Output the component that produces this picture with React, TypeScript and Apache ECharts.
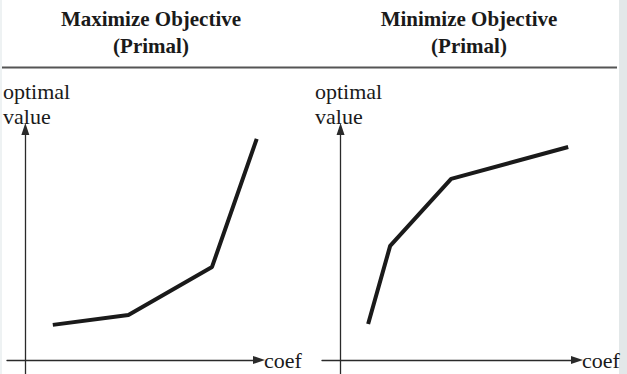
import React, { useEffect, useRef } from "react";
import * as echarts from "echarts";

// Left panel: maximize objective (convex, increasing)
const maxCoef = [1.2, 4.5, 8.15, 10.1];
const maxValue = [1.52, 1.95, 4.03, 9.57];
// Right panel: minimize objective (concave, increasing)
const minCoef = [1.19, 2.14, 4.77, 9.82];
const minValue = [1.56, 4.94, 7.84, 9.22];

const titles = ["Maximize Objective", "Minimize Objective"];
const subtitle = "(Primal)";
const yLabelLines = ["optimal", "value"];
const xLabel = "coef";

const SERIF = "'Liberation Serif', 'Times New Roman', serif";
const INK = "#1a1a1a";
const AXIS = "#2a2a2a";

function axisPair(gridIndex: number) {
  const x = {
    type: "value",
    gridIndex,
    min: -0.8,
    max: 10.2,
    name: xLabel,
    nameLocation: "end",
    nameGap: 5,
    nameTextStyle: { fontFamily: SERIF, fontSize: 22, color: INK, verticalAlign: "middle", padding: [0, 0, 4, 0] },
    axisLine: {
      onZero: true,
      symbol: ["none", "triangle"],
      symbolSize: [8, 12],
      symbolOffset: [0, 0],
      lineStyle: { color: AXIS, width: 1.3 },
    },
    axisTick: { show: false },
    axisLabel: { show: false },
    splitLine: { show: false },
  };
  const y = {
    type: "value",
    gridIndex,
    min: -0.606,
    max: 10,
    axisLine: {
      onZero: true,
      symbol: ["none", "triangle"],
      symbolSize: [8, 12],
      lineStyle: { color: AXIS, width: 1.3 },
    },
    axisTick: { show: false },
    axisLabel: { show: false },
    splitLine: { show: false },
  };
  return { x, y };
}

export default function App() {
  const ref = useRef<HTMLDivElement>(null);
  useEffect(() => {
    if (!ref.current) return;
    const chart = echarts.init(ref.current, null, { renderer: "svg" });
    const a0 = axisPair(0);
    const a1 = axisPair(1);
    const textEls: any[] = [];
    const centers = [151, 469];
    const labelX = [3, 315];
    titles.forEach((t, i) => {
      textEls.push({
        type: "text",
        x: centers[i],
        y: 29,
        style: { text: t, fontFamily: SERIF, fontWeight: "bold", fontSize: 21, fill: INK, align: "center", verticalAlign: "bottom" },
      });
      textEls.push({
        type: "text",
        x: centers[i],
        y: 56,
        style: { text: subtitle, fontFamily: SERIF, fontWeight: "bold", fontSize: 21, fill: INK, align: "center", verticalAlign: "bottom" },
      });
      yLabelLines.forEach((l, j) => {
        textEls.push({
          type: "text",
          x: labelX[i],
          y: 102 + j * 25,
          style: { text: l, fontFamily: SERIF, fontSize: 22, fill: INK, align: "left", verticalAlign: "bottom" },
        });
      });
    });
    chart.setOption({
      animation: false,
      backgroundColor: "#ffffff",
      grid: [
        { left: 7, top: 129, width: 252, height: 245 },
        { left: 322, top: 129, width: 255, height: 245 },
      ],
      xAxis: [a0.x, a1.x],
      yAxis: [a0.y, a1.y],
      series: [
        {
          type: "line",
          xAxisIndex: 0,
          yAxisIndex: 0,
          data: maxCoef.map((c, i) => [c, maxValue[i]]),
          showSymbol: false,
          lineStyle: { color: INK, width: 4 },
        },
        {
          type: "line",
          xAxisIndex: 1,
          yAxisIndex: 1,
          data: minCoef.map((c, i) => [c, minValue[i]]),
          showSymbol: false,
          lineStyle: { color: INK, width: 4 },
        },
      ],
      graphic: [
        { type: "rect", shape: { x: 619, y: 0, width: 8, height: 374 }, style: { fill: "#e3e8e9" } },
        { type: "rect", shape: { x: 0, y: 0, width: 2, height: 374 }, style: { fill: "#eef2f3" } },
        { type: "line", shape: { x1: 2, y1: 67.5, x2: 617, y2: 67.5 }, style: { stroke: "#555555", lineWidth: 2.2 } },
        ...textEls,
      ],
    });
    return () => chart.dispose();
  }, []);
  return (
    <div
      ref={ref}
      style={{ position: "fixed", left: 0, top: 0, width: 627, height: 374, background: "#fff" }}
    />
  );
}
